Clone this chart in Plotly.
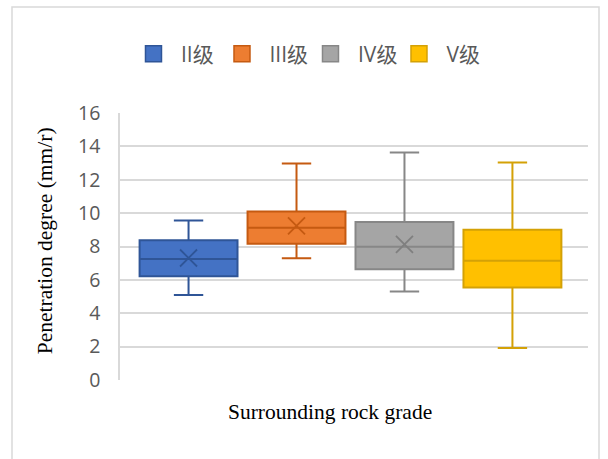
import plotly.graph_objects as go

# ---- data ----
categories = ["II级", "III级", "IV级", "V级"]
q1_vals = [6.21, 8.17, 6.63, 5.55]
median_vals = [7.25, 9.13, 7.99, 7.15]
q3_vals = [8.37, 10.10, 9.47, 9.01]
lower_vals = [5.09, 7.29, 5.31, 1.92]
upper_vals = [9.56, 12.98, 13.64, 13.04]
mean_vals = [7.31, 9.23, 8.13, None]
y_ticks = [0, 2, 4, 6, 8, 10, 12, 14, 16]

# ---- styles ----
fills = ["#4472C4", "#ED7D31", "#A5A5A5", "#FFC000"]
lines = ["#2F5597", "#C55A11", "#878787", "#D4A106"]
mean_cols = ["#2F5597", "#C55A11", "#7F7F7F", "#D4A106"]

fig = go.Figure()

for i, cat in enumerate(categories):
    fig.add_trace(go.Box(
        x=[cat], q1=[q1_vals[i]], median=[median_vals[i]], q3=[q3_vals[i]],
        lowerfence=[lower_vals[i]], upperfence=[upper_vals[i]],
        fillcolor=fills[i], line=dict(color=lines[i], width=2),
        whiskerwidth=0.3, boxpoints=False, showlegend=False, name=cat,
    ))
    if mean_vals[i] is not None:
        fig.add_trace(go.Scatter(
            x=[cat], y=[mean_vals[i]], mode="markers", showlegend=False,
            marker=dict(symbol="x-thin-open", size=17, color=mean_cols[i],
                        line=dict(color=mean_cols[i], width=1.8)),
            hoverinfo="skip",
        ))

# legend entries
for i, cat in enumerate(categories):
    fig.add_trace(go.Scatter(
        x=[None], y=[None], mode="markers", name=cat,
        marker=dict(symbol="square", size=19, color=fills[i],
                    line=dict(color=lines[i], width=1.5)),
    ))

fig.update_layout(
    width=608, height=459,
    margin=dict(l=120, r=20, t=113, b=79),
    paper_bgcolor="white", plot_bgcolor="white",
    boxmode="overlay", boxgap=0.093, boxgroupgap=0,
    showlegend=True,
    legend=dict(orientation="h", x=0.0128, xanchor="left", y=1.221, yanchor="middle",
                font=dict(family="Open Sans, Noto Sans CJK SC", size=21, color="#595959"),
                itemsizing="trace", itemwidth=45, entrywidth=28.5, entrywidthmode="pixels",
                bgcolor="rgba(0,0,0,0)"),
    xaxis=dict(type="category", categoryorder="array", categoryarray=categories,
               range=[-0.635, 3.70], showticklabels=False, showgrid=False,
               zeroline=False, showline=False, ticks=""),
    yaxis=dict(range=[0, 16], tickvals=y_ticks, showgrid=True, gridcolor="#D9D9D9",
               gridwidth=1.5, zeroline=False, showline=True, linecolor="#D9D9D9",
               linewidth=1.5, ticks="", ticklabelstandoff=14,
               tickfont=dict(family="Open Sans", size=19.5, color="#595959")),
    annotations=[
        dict(text="Surrounding rock grade", xref="paper", yref="paper",
             x=0.448, y=-0.12, xanchor="center", yanchor="middle", showarrow=False,
             font=dict(family="Liberation Serif", size=21.5, color="black")),
        dict(text="Penetration degree (mm/r)", xref="paper", yref="paper",
             x=-0.16, y=0.52, xanchor="center", yanchor="middle", showarrow=False,
             textangle=-90,
             font=dict(family="Liberation Serif", size=21.5, color="black")),
    ],
    shapes=[dict(type="rect", xref="paper", yref="paper",
                 x0=(12 - 120) / 468, x1=(599 - 120) / 468,
                 y0=(380 - 470) / 267, y1=(380 - 7) / 267,
                 line=dict(color="#D9D9D9", width=1.5), fillcolor="rgba(0,0,0,0)",
                 layer="below")],
)

fig.write_html("out.html", config={"displayModeBar": False},
               post_script="document.body.style.margin='0';document.body.style.overflow='hidden';")
